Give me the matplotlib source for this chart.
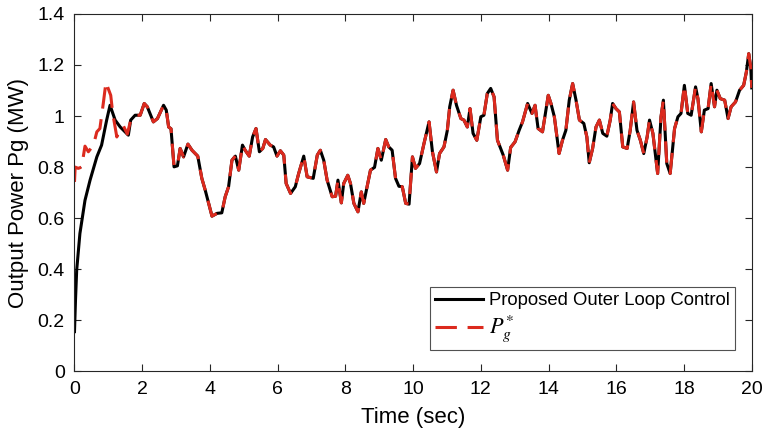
import matplotlib
matplotlib.use("Agg")
import matplotlib.pyplot as plt
import numpy as np

# reference power P_g*
t_ref = [0.00, 0.02, 0.11, 0.21, 0.31, 0.41, 0.56, 0.66, 0.75, 0.85, 0.93, 0.96,
         1.07, 1.13, 1.25, 1.35, 1.45, 1.56, 1.66, 1.79, 1.94, 2.06, 2.15, 2.33,
         2.45, 2.63, 2.71, 2.78, 2.85, 2.94, 3.04, 3.12, 3.22, 3.35, 3.47, 3.64,
         3.76, 3.86, 4.06, 4.21, 4.35, 4.45, 4.55, 4.65, 4.75, 4.85, 4.96, 5.04,
         5.16, 5.26, 5.36, 5.46, 5.56, 5.64, 5.78, 5.88, 5.98, 6.08, 6.18, 6.25,
         6.38, 6.52, 6.62, 6.77, 6.87, 7.05, 7.17, 7.26, 7.36, 7.46, 7.61, 7.71,
         7.78, 7.88, 7.95, 8.07, 8.15, 8.25, 8.37, 8.47, 8.54, 8.64, 8.74, 8.86,
         8.96, 9.06, 9.19, 9.28, 9.38, 9.48, 9.58, 9.68, 9.78, 9.88, 9.98, 10.07,
         10.19, 10.32, 10.47, 10.57, 10.69, 10.78, 10.91, 11.01, 11.08, 11.18,
         11.28, 11.41, 11.50, 11.60, 11.68, 11.77, 11.88, 12.00, 12.09, 12.19,
         12.29, 12.39, 12.49, 12.66, 12.79, 12.88, 13.01, 13.13, 13.23, 13.38,
         13.51, 13.60, 13.69, 13.82, 13.99, 14.07, 14.17, 14.31, 14.41, 14.51,
         14.61, 14.71, 14.81, 14.91, 15.04, 15.13, 15.20, 15.30, 15.40, 15.50,
         15.60, 15.72, 15.82, 15.89, 15.99, 16.09, 16.19, 16.32, 16.41, 16.51,
         16.61, 16.71, 16.81, 16.91, 16.98, 17.08, 17.22, 17.32, 17.39, 17.49,
         17.59, 17.72, 17.82, 17.91, 18.01, 18.11, 18.21, 18.34, 18.41, 18.51,
         18.60, 18.71, 18.80, 18.90, 18.97, 19.07, 19.20, 19.30, 19.39, 19.52,
         19.64, 19.76, 19.84, 19.91, 19.97, 20.00]
p_ref = [0.742, 0.800, 0.795, 0.800, 0.882, 0.860, 0.886, 0.938, 0.951, 1.049, 1.133, 1.120,
         1.081, 1.010, 0.918, 0.951, 0.960, 0.929, 0.984, 1.003, 1.003, 1.049, 1.036, 0.977,
         0.990, 1.042, 1.023, 0.957, 0.950, 0.801, 0.805, 0.873, 0.840, 0.890, 0.866, 0.843,
         0.756, 0.710, 0.608, 0.619, 0.621, 0.684, 0.723, 0.827, 0.843, 0.788, 0.886, 0.866,
         0.843, 0.918, 0.951, 0.860, 0.873, 0.908, 0.886, 0.879, 0.843, 0.864, 0.847, 0.736,
         0.697, 0.723, 0.775, 0.843, 0.762, 0.756, 0.847, 0.866, 0.827, 0.749, 0.684, 0.686,
         0.749, 0.660, 0.736, 0.768, 0.736, 0.658, 0.625, 0.703, 0.658, 0.723, 0.788, 0.799,
         0.873, 0.827, 0.908, 0.879, 0.866, 0.756, 0.725, 0.723, 0.658, 0.655, 0.840, 0.795,
         0.814, 0.892, 0.977, 0.860, 0.781, 0.853, 0.879, 0.944, 1.036, 1.101,
         1.042, 0.990, 0.984, 0.957, 1.029, 0.932, 0.905, 0.997, 1.003, 1.088,
         1.108, 1.075, 0.905, 0.847, 0.788, 0.877, 0.899, 0.944, 0.977, 1.049,
         1.010, 1.042, 0.951, 0.938, 1.081, 1.049, 0.997, 0.853, 0.905, 0.944,
         1.062, 1.127, 1.062, 0.984, 0.971, 0.918, 0.817, 0.873, 0.957, 0.984,
         0.932, 0.921, 0.984, 1.049, 1.029, 1.016, 0.879, 0.873, 0.944, 1.055,
         0.944, 0.905, 0.853, 0.918, 0.984, 0.932, 0.775, 0.997, 1.062, 0.814,
         0.775, 0.951, 0.997, 1.010, 1.120, 1.010, 1.003, 1.114, 1.068, 0.938,
         1.023, 1.029, 1.127, 1.036, 1.101, 1.068, 1.062, 0.990, 1.036, 1.055,
         1.101, 1.120, 1.172, 1.244, 1.190, 1.110]

# output of the outer loop control: start-up transient, then it tracks P_g*
t_start = [0.00, 0.03, 0.065, 0.16, 0.31, 0.46, 0.66, 0.80, 0.95, 1.05, 1.20, 1.35, 1.59]
p_start = [0.156, 0.28, 0.397, 0.540, 0.670, 0.749, 0.840, 0.886, 0.984, 1.042, 0.984, 0.957, 0.925]

t_ref = np.array(t_ref)
p_ref = np.array(p_ref)
keep = t_ref > 1.6
t_out = np.concatenate([t_start, t_ref[keep]])
p_out = np.concatenate([p_start, p_ref[keep]])

yticks = [0, 0.2, 0.4, 0.6, 0.8, 1.0, 1.2, 1.4]
ytick_labels = ['0', '0.2', '0.4', '0.6', '0.8', '1', '1.2', '1.4']
xticks = list(range(0, 21, 2))

plt.rcParams['font.family'] = ['Liberation Sans', 'DejaVu Sans']
plt.rcParams['mathtext.fontset'] = 'stix'

fig = plt.figure(figsize=(7.64, 4.41), dpi=100)
ax = fig.add_axes([0.0975, 0.1576, 0.8865, 0.8111])

ax.plot(t_out, p_out, color='black', lw=2.2, label='Proposed Outer Loop Control')
ax.plot(t_ref, p_ref, color='#DC2A1E', lw=2.2, dashes=(7, 3.5),
        label=r'$P_g^{*}$')

ax.set_xlim(0, 20)
ax.set_ylim(0, 1.4)
ax.set_xticks(xticks)
ax.set_yticks(yticks)
ax.set_yticklabels(ytick_labels)
ax.tick_params(direction='in', length=5, width=0.8, labelsize=14, pad=7,
               top=True, right=True, colors='#262626')
for lbl in ax.get_xticklabels() + ax.get_yticklabels():
    lbl.set_color('black')
for s in ax.spines.values():
    s.set_color('#262626')
    s.set_linewidth(0.8)

ax.set_xlabel('Time (sec)', fontsize=16, labelpad=6)
ax.set_ylabel('Output Power Pg (MW)', fontsize=16, labelpad=6)

leg = ax.legend(loc='lower right', bbox_to_anchor=(0.9753, 0.060), borderaxespad=0,
                fontsize=13.3, frameon=True, fancybox=False, edgecolor='#262626',
                handlelength=2.6, handletextpad=0.3, borderpad=0.3,
                labelspacing=0.25)
leg.get_frame().set_linewidth(0.8)
leg.get_texts()[1].set_fontsize(16)

fig.savefig('out.png', dpi=100)
